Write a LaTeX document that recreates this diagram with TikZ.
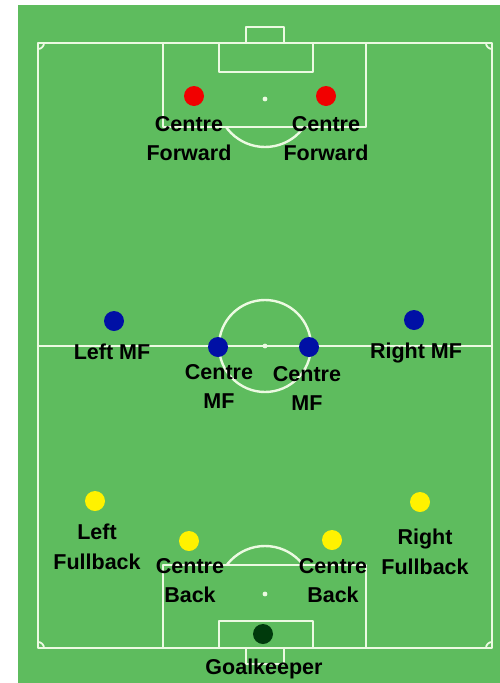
\documentclass[tikz,border=0pt]{standalone}
\usepackage{fontspec}
\setmainfont{Liberation Sans}
\usetikzlibrary{positioning}

\definecolor{pitch}{RGB}{94,188,94}
\definecolor{chalk}{RGB}{236,250,226}
\definecolor{fwdred}{RGB}{242,0,0}
\definecolor{mfblue}{RGB}{0,16,165}
\definecolor{defyellow}{RGB}{255,242,0}
\definecolor{gkgreen}{RGB}{0,58,12}

\begin{document}
\begin{tikzpicture}[line cap=round,line join=round,x=1pt,y=-1pt,
		player/.style={circle,minimum size=20pt,inner sep=0pt},
		tag/.style={anchor=north,align=center,inner sep=0pt,font=\fontsize{21.5}{29.5}\selectfont\bfseries}]
					\useasboundingbox (0,0) rectangle (500,683);
					\fill[pitch] (18,5) rectangle (500,683);
					% pitch markings
					\draw [line width=2.4pt,color=chalk] (38,43) rectangle (492,648);
					\draw [line width=2.4pt,color=chalk] (38,346)-- (492,346);
					\draw [line width=2.4pt,color=chalk] (265,346) circle (46);
					\fill [color=chalk] (265,346) circle (2.4);
					\draw [line width=2.4pt,color=chalk] (163,43) rectangle (366,127);
					\draw [line width=2.4pt,color=chalk] (219,43) rectangle (313,72);
					\draw [line width=2.4pt,color=chalk] (246,43)-- (246,27)-- (284,27)-- (284,43);
					\fill [color=chalk] (265,99) circle (2.4);
					\draw [line width=2.4pt,color=chalk] (163,565) rectangle (366,648);
					\draw [line width=2.4pt,color=chalk] (219,621) rectangle (313,648);
					\draw [line width=2.4pt,color=chalk] (246,648)-- (246,664)-- (284,664)-- (284,648);
					\fill [color=chalk] (265,594) circle (2.4);
					\begin{scope}
						\clip (0,127) rectangle (500,250);
						\draw [line width=2.4pt,color=chalk] (265,99) circle (48);
					\end{scope}
					\begin{scope}
						\clip (0,440) rectangle (500,565);
						\draw [line width=2.4pt,color=chalk] (265,594) circle (48);
					\end{scope}
					\begin{scope}
						\clip (38,43) rectangle (492,648);
						\foreach \cx/\cy in {38/43,492/43,38/648,492/648}
							\draw [line width=1.8pt,color=chalk] (\cx,\cy) circle (6);
					\end{scope}

					% forwards
					\node[player,fill=fwdred] (cfl) at (194,96) {};
					\node[player,fill=fwdred] (cfr) at (326,96) {};
					\node[tag] (cflt) at (189,116) {Centre\\Forward};
					\node[tag] (cfrt) at (326,116) {Centre\\Forward};

					% midfield
					\node[player,fill=mfblue] (lmf) at (114,321) {};
					\node[player,fill=mfblue] (cmfl) at (218,347) {};
					\node[player,fill=mfblue] (cmfr) at (309,347) {};
					\node[player,fill=mfblue] (rmf) at (414,320) {};
					\node[tag] (lmft) at (112,344) {Left MF};
					\node[tag] (cmflt) at (219,364) {Centre\\MF};
					\node[tag] (cmfrt) at (307,366) {Centre\\MF};
					\node[tag] (rmft) at (416,343) {Right MF};

					% defence
					\node[player,fill=defyellow] (lfb) at (95,501) {};
					\node[player,fill=defyellow] (cbl) at (189,541) {};
					\node[player,fill=defyellow] (cbr) at (332,540) {};
					\node[player,fill=defyellow] (rfb) at (420,502) {};
					\node[tag] (lfbt) at (97,524) {Left\\Fullback};
					\node[tag] (cblt) at (190,558) {Centre\\Back};
					\node[tag] (cbrt) at (333,558) {Centre\\Back};
					\node[tag] (rfbt) at (425,529) {Right\\Fullback};

					\node[player,fill=gkgreen] (gk) at (263,634) {};
					\node[tag] (gkt) at (264,659) {Goalkeeper};
				\end{tikzpicture}
\end{document}
